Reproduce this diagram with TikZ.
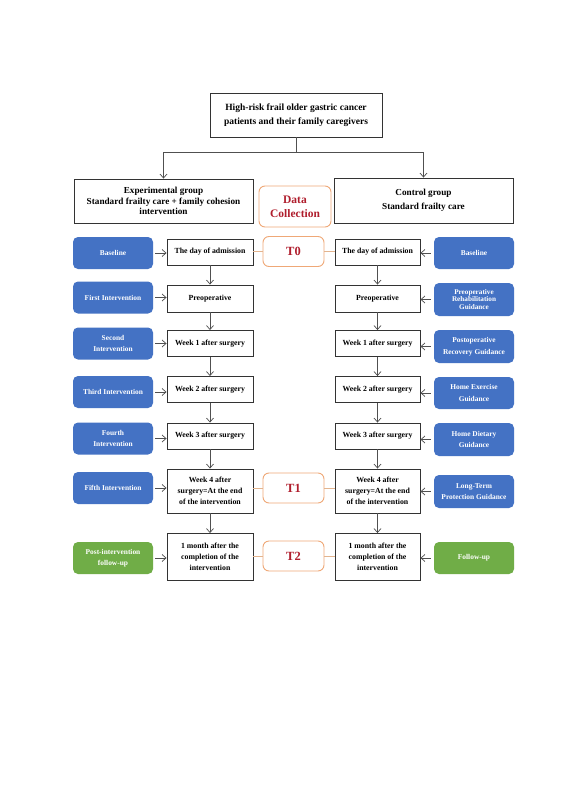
\documentclass[tikz,border=0pt]{standalone}
\usepackage{fontspec}
\setmainfont{Liberation Serif}
\usetikzlibrary{arrows.meta}
\definecolor{bluebox}{HTML}{4472C4}
\definecolor{greenbox}{HTML}{70AD47}
\definecolor{orangeline}{HTML}{EFA877}
\definecolor{darkred}{HTML}{B01E2D}
\definecolor{tanline}{HTML}{E3B48E}
\definecolor{lineg}{HTML}{505050}
\begin{document}
\begin{tikzpicture}[x=1pt,y=-1pt,
 every node/.style={align=center, inner sep=1pt},
 wbox/.style={draw=black!80, line width=0.9pt, fill=white, minimum width=86pt, minimum height=26pt, font=\fontsize{7.8}{11.2}\selectfont\bfseries},
 bbox/.style={fill=bluebox, rounded corners=5pt, minimum width=80pt, minimum height=32pt, text=white, font=\fontsize{7.4}{11.5}\selectfont\bfseries},
 gbox/.style={bbox, fill=greenbox},
 tbox/.style={draw=orangeline, line width=0.9pt, rounded corners=6pt, fill=white, minimum width=61pt, minimum height=30pt, text=darkred, font=\fontsize{12.5}{14}\selectfont\bfseries},
 arr/.style={draw=lineg, line width=0.7pt, -{Straight Barb[length=4pt,width=7pt]}},
 tline/.style={draw=tanline, line width=0.9pt}]
\useasboundingbox[fill=white] (0,0) rectangle (565,800);

% top and groups
\node[wbox, minimum width=172pt, minimum height=44pt, font=\fontsize{9.5}{14}\selectfont\bfseries] (top) at (296,115) {High-risk frail older gastric cancer\\patients and their family caregivers};
\node[wbox, minimum width=179pt, minimum height=44pt, font=\fontsize{9.2}{10.8}\selectfont\bfseries] (exp) at (163.5,201) {Experimental group\\Standard frailty care + family cohesion\\intervention};
\node[wbox, minimum width=179pt, minimum height=45pt, font=\fontsize{9.2}{14}\selectfont\bfseries] (ctl) at (423.5,200.5) {Control group\\Standard frailty care};
\node[tbox, minimum width=72pt, minimum height=41pt, font=\fontsize{11.5}{14.3}\selectfont\bfseries] (dc) at (295,206.5) {Data\\Collection};

\coordinate (split) at (296,152);
\draw[lineg, line width=0.7pt] (top.south) -- (split);
\draw[arr] (split) -| (exp.north);
\draw[arr] (split) -| (ctl.north);

% left column
\node[wbox] (L0) at (210,252) {The day of admission};
\node[wbox, minimum height=27pt] (L1) at (210,298.5) {Preoperative};
\node[wbox] (L2) at (210,343.5) {Week 1 after surgery};
\node[wbox] (L3) at (210,389.5) {Week 2 after surgery};
\node[wbox] (L4) at (210,436) {Week 3 after surgery};
\node[wbox, minimum height=44pt] (L5) at (210,491) {Week 4 after\\surgery=At the end\\of the intervention};
\node[wbox, minimum height=47pt] (L6) at (210,557) {1 month after the\\completion of the\\intervention};

% right column
\node[wbox, minimum width=85pt] (R0) at (377.5,252) {The day of admission};
\node[wbox, minimum width=85pt, minimum height=27pt] (R1) at (377.5,298.5) {Preoperative};
\node[wbox, minimum width=85pt] (R2) at (377.5,343.5) {Week 1 after surgery};
\node[wbox, minimum width=85pt] (R3) at (377.5,389.5) {Week 2 after surgery};
\node[wbox, minimum width=85pt] (R4) at (377.5,436) {Week 3 after surgery};
\node[wbox, minimum width=85pt, minimum height=44pt] (R5) at (377.5,491) {Week 4 after\\surgery=At the end\\of the intervention};
\node[wbox, minimum width=85pt, minimum height=47pt] (R6) at (377.5,557) {1 month after the\\completion of the\\intervention};

% left blue
\node[bbox] (BL0) at (113,253) {Baseline};
\node[bbox] (BL1) at (113,297.5) {First Intervention};
\node[bbox] (BL2) at (113,343.5) {Second\\Intervention};
\node[bbox] (BL3) at (113,392) {Third Intervention};
\node[bbox] (BL4) at (113,438.5) {Fourth\\Intervention};
\node[bbox] (BL5) at (113,488) {Fifth Intervention};
\node[gbox] (BL6) at (113,558) {Post-intervention\\follow-up};

% right blue
\node[bbox] (BR0) at (474,253) {Baseline};
\node[bbox, minimum height=33pt, font=\fontsize{7.2}{7.6}\selectfont\bfseries] (BR1) at (474,299.5) {Preoperative\\Rehabilitation\\Guidance};
\node[bbox, minimum height=33pt] (BR2) at (474,346.5) {Postoperative\\Recovery Guidance};
\node[bbox] (BR3) at (474,393) {Home Exercise\\Guidance};
\node[bbox, minimum height=33pt] (BR4) at (474,439.5) {Home Dietary\\Guidance};
\node[bbox, minimum height=33pt] (BR5) at (474,491.5) {Long-Term\\Protection Guidance};
\node[gbox] (BR6) at (474,558) {Follow-up};

% T boxes
\node[tbox] (T0) at (293.5,251.5) {T0};
\node[tbox] (T1) at (293.5,488) {T1};
\node[tbox] (T2) at (293.5,556) {T2};

% vertical arrows
\foreach \a/\b in {L0/L1,L1/L2,L2/L3,L3/L4,L4/L5,L5/L6,R0/R1,R1/R2,R2/R3,R3/R4,R4/R5,R5/R6}
  \draw[arr] (\a) -- (\b);

% side arrows
\foreach \i in {0,...,6} {
  \draw[arr, shorten <=2pt] (BL\i.east) -- (BL\i.east -| L\i.west);
  \draw[arr, shorten <=3pt] (BR\i.west) -- (BR\i.west -| R\i.east);
}

% T lines
\draw[tline] (T0.west) -- (T0.west -| L0.east);
\draw[tline] (T0.east) -- (T0.east -| R0.west);
\draw[tline] (T1.west) -- (T1.west -| L5.east);
\draw[tline] (T1.east) -- (T1.east -| R5.west);
\draw[tline] (T2.west) -- (T2.west -| L6.east);
\draw[tline] (T2.east) -- (T2.east -| R6.west);
\end{tikzpicture}
\end{document}
